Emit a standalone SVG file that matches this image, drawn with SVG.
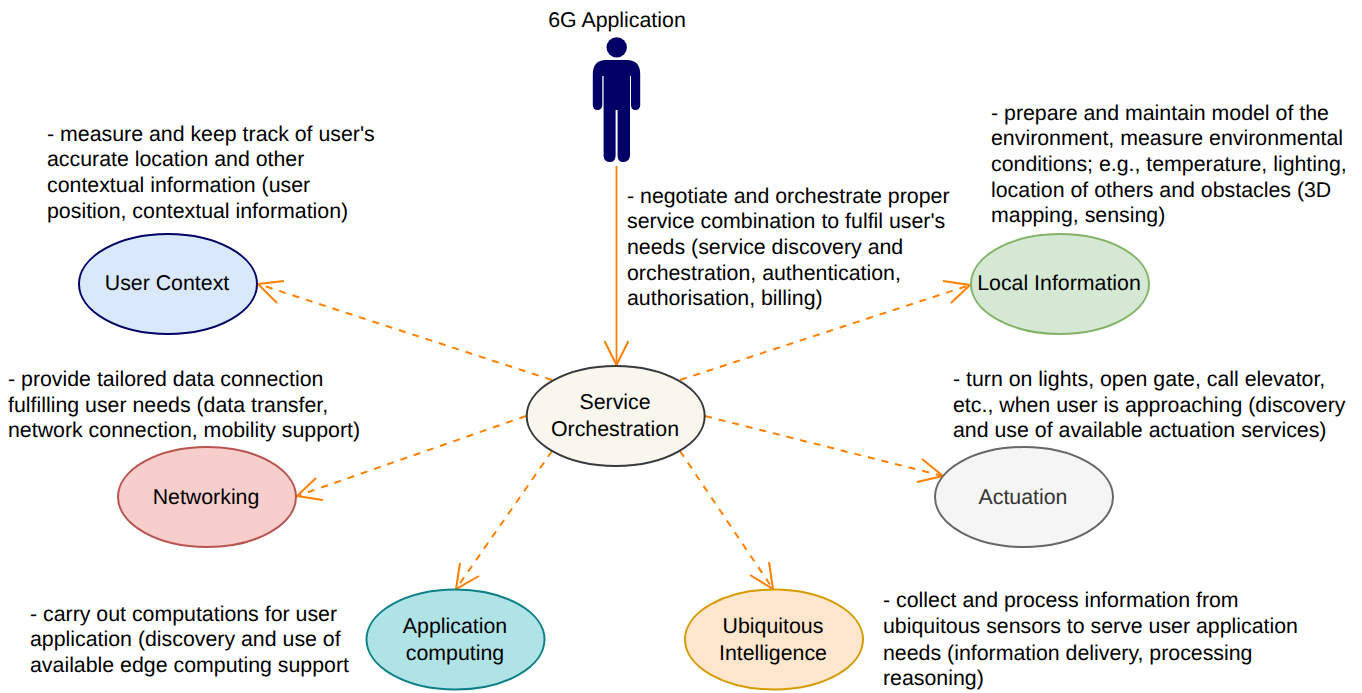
<svg xmlns="http://www.w3.org/2000/svg" width="1362" height="693" viewBox="0 0 1362 693">
<style>
text{font-family:"Liberation Sans",Arial,sans-serif;font-size:21.33px;fill:#000;text-rendering:geometricPrecision}
.m{text-anchor:middle}
.n{stroke-width:2}
.c{fill:none;stroke:#ff8000;stroke-width:1.8}
.d{stroke-dasharray:7 7;stroke-width:2}
.h{fill:none;stroke:#ff8000;stroke-width:2}
</style>
<rect width="1362" height="693" fill="#fff"/>
<g id="connectors">
<path class="c" d="M616.500 166V365"/><path class="h" d="M604.500 341L616.500 365L628.500 341"/>
<path class="c d" d="M552 380L258 284"/><path class="h" d="M284 281L258 284L277 303"/>
<path class="c d" d="M680 380L970 285"/><path class="h" d="M943 281L970 285L951 303"/>
<path class="c d" d="M526 416L297 496"/><path class="h" d="M316 478L297 496L323 500"/>
<path class="c d" d="M705 416L943 476"/><path class="h" d="M922 459L943 476L917 482"/>
<path class="c d" d="M552 451L456 589"/><path class="h" d="M460 563L456 589L479 576"/>
<path class="c d" d="M680 451L773 589"/><path class="h" d="M750 575L773 589L769 562"/>
</g>
<g id="user-figure">
<circle cx="616.700" cy="47.400" r="10.200" fill="#000066"/>
<path fill="#000066" d="M606 60H627Q640 60 640.200 74V105Q640 110 635.500 110Q631 110 631 105V76H630V156Q629 162 623 162Q618 162 617.600 156V110H615.600V156Q615 162 610 162Q604 162 603.600 156V76H602.300V105Q602 110 597.500 110Q593 110 592.800 105V74Q593 60 606 60Z"/>
</g>
<g id="label-app"><text class="m" x="617" y="27">6G Application</text></g>
<g id="service-orchestration">
<ellipse class="n" cx="615.700" cy="416" rx="89" ry="50" fill="#f9f7ed" stroke="#36393d"/>
<text class="m" x="615" y="409.400">Service</text><text class="m" x="615" y="436">Orchestration</text>
</g>
<g id="user-context">
<ellipse class="n" cx="168" cy="284" rx="89" ry="50" fill="#dae8fc" stroke="#000066"/>
<text class="m" x="167" y="290">User Context</text>
</g>
<g id="local-information">
<ellipse class="n" cx="1060" cy="284" rx="89" ry="50" fill="#d5e8d4" stroke="#82b366"/>
<text class="m" x="1059" y="290">Local Information</text>
</g>
<g id="networking">
<ellipse class="n" cx="207" cy="497" rx="89" ry="50" fill="#f8cecc" stroke="#b85450"/>
<text class="m" x="206" y="504">Networking</text>
</g>
<g id="actuation">
<ellipse class="n" cx="1024" cy="497" rx="89" ry="50" fill="#f5f5f5" stroke="#666666"/>
<text class="m" x="1023" y="504" style="fill:#333333">Actuation</text>
</g>
<g id="application-computing">
<ellipse class="n" cx="455.500" cy="639.500" rx="89" ry="50" fill="#b0e3e6" stroke="#0e8088"/>
<text class="m" x="455" y="633">Application</text><text class="m" x="455" y="660">computing</text>
</g>
<g id="ubiquitous-intelligence">
<ellipse class="n" cx="774" cy="639.500" rx="89" ry="50" fill="#ffe6cc" stroke="#d79b00"/>
<text class="m" x="773" y="633">Ubiquitous</text><text class="m" x="773" y="660">Intelligence</text>
</g>
<g id="notes">
<text x="47" y="140.800">- measure and keep track of user's</text>
<text x="47" y="166.400">accurate location and other</text>
<text x="47" y="192">contextual information (user</text>
<text x="47" y="217.600">position, contextual information)</text>
<text x="627" y="202.800">- negotiate and orchestrate proper</text>
<text x="627" y="228.400">service combination to fulfil user's</text>
<text x="627" y="254">needs (service discovery and</text>
<text x="627" y="279.600">orchestration, authentication,</text>
<text x="627" y="305.200">authorisation, billing)</text>
<text x="991" y="119.800">- prepare and maintain model of the</text>
<text x="991" y="145.400">environment, measure environmental</text>
<text x="991" y="171">conditions; e.g., temperature, lighting,</text>
<text x="991" y="196.600">location of others and obstacles (3D</text>
<text x="991" y="222.200">mapping, sensing)</text>
<text x="8" y="386.200">- provide tailored data connection</text>
<text x="8" y="411.800">fulfilling user needs (data transfer,</text>
<text x="8" y="437.400">network connection, mobility support)</text>
<text x="953" y="386.200">- turn on lights, open gate, call elevator,</text>
<text x="953" y="411.800">etc., when user is approaching (discovery</text>
<text x="953" y="437.400">and use of available actuation services)</text>
<text x="30" y="620.800">- carry out computations for user</text>
<text x="30" y="646.400">application (discovery and use of</text>
<text x="30" y="672">available edge computing support</text>
<text x="883" y="607.400">- collect and process information from</text>
<text x="883" y="633">ubiquitous sensors to serve user application</text>
<text x="883" y="659.500">needs (information delivery, processing</text>
<text x="883" y="685">reasoning)</text>
</g>
</svg>
